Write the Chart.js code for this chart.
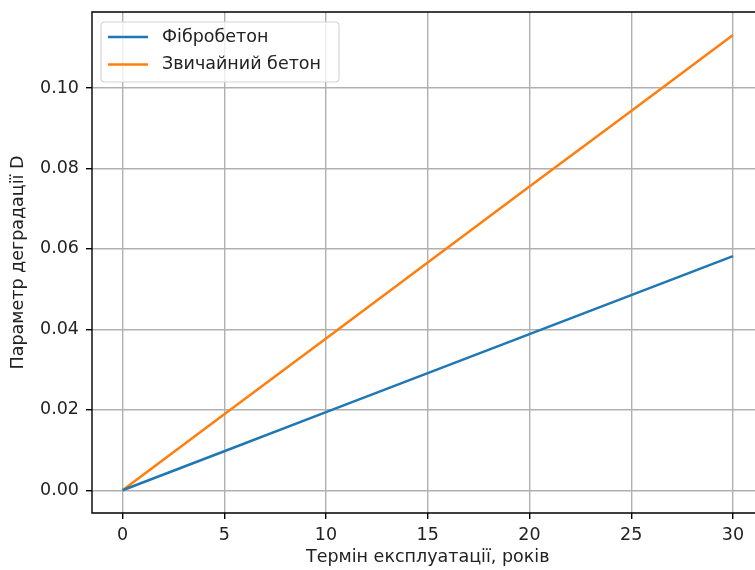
<!DOCTYPE html>
<html>
<head>
<meta charset="utf-8">
<script src="https://cdn.jsdelivr.net/npm/chart.js@4.4.0/dist/chart.umd.min.js"></script>
<style>
  html, body { margin: 0; padding: 0; background: #fff; overflow: hidden; }
  #wrap { width: 772px; height: 570px; position: relative; }
</style>
</head>
<body>
<div id="wrap"><canvas id="c"></canvas></div>
<script>
const years = [0, 5, 10, 15, 20, 25, 30];
const fibroConcrete = [0, 0.0097, 0.0194, 0.0291, 0.0388, 0.0485, 0.0582];
const ordinaryConcrete = [0, 0.0189, 0.0377, 0.0566, 0.0755, 0.0943, 0.1132];
const seriesLabels = ['Фібробетон', 'Звичайний бетон'];
const xTicks = [0, 5, 10, 15, 20, 25, 30];
const yTicks = [0, 0.02, 0.04, 0.06, 0.08, 0.10];
const xTitle = 'Термін експлуатації, років';
const yTitle = 'Параметр деградації D';

const FONT = 'DejaVu Sans';
const FS = 17.5;

const spinesPlugin = {
  id: 'spines',
  afterDatasetsDraw(chart) {
    const { ctx, chartArea: a } = chart;
    ctx.save();
    ctx.strokeStyle = '#000';
    ctx.lineWidth = 1.4;
    ctx.beginPath();
    ctx.rect(a.left, a.top, a.right - a.left, a.bottom - a.top);
    ctx.stroke();
    ctx.restore();
  }
};

const legendPlugin = {
  id: 'mplLegend',
  afterDraw(chart) {
    const { ctx, chartArea: a } = chart;
    const ds = chart.data.datasets;
    ctx.save();
    ctx.font = FS + 'px "' + FONT + '"';
    let maxW = 0;
    ds.forEach(d => { maxW = Math.max(maxW, ctx.measureText(d.label).width); });
    const x0 = a.left + 9, y0 = a.top + 10;
    const w = 70 + maxW + 9, h = 60;
    const r = 4;
    ctx.beginPath();
    ctx.moveTo(x0 + r, y0);
    ctx.lineTo(x0 + w - r, y0);
    ctx.quadraticCurveTo(x0 + w, y0, x0 + w, y0 + r);
    ctx.lineTo(x0 + w, y0 + h - r);
    ctx.quadraticCurveTo(x0 + w, y0 + h, x0 + w - r, y0 + h);
    ctx.lineTo(x0 + r, y0 + h);
    ctx.quadraticCurveTo(x0, y0 + h, x0, y0 + h - r);
    ctx.lineTo(x0, y0 + r);
    ctx.quadraticCurveTo(x0, y0, x0 + r, y0);
    ctx.closePath();
    ctx.fillStyle = 'rgba(255,255,255,0.8)';
    ctx.fill();
    ctx.strokeStyle = '#d6d6d6';
    ctx.lineWidth = 1.2;
    ctx.stroke();
    ds.forEach((d, i) => {
      const cy = y0 + 15 + i * 27.5;
      ctx.strokeStyle = d.borderColor;
      ctx.lineWidth = d.borderWidth;
      ctx.beginPath();
      ctx.moveTo(x0 + 7, cy);
      ctx.lineTo(x0 + 47, cy);
      ctx.stroke();
      ctx.fillStyle = '#222';
      ctx.textBaseline = 'middle';
      ctx.textAlign = 'left';
      ctx.fillText(d.label, x0 + 61, cy);
    });
    ctx.restore();
  }
};

new Chart(document.getElementById('c'), {
  type: 'line',
  data: {
    datasets: [
      {
        label: seriesLabels[0],
        data: years.map((x, i) => ({ x, y: fibroConcrete[i] })),
        borderColor: '#1f77b4',
        borderWidth: 2.5,
        pointRadius: 0,
        tension: 0,
        fill: false
      },
      {
        label: seriesLabels[1],
        data: years.map((x, i) => ({ x, y: ordinaryConcrete[i] })),
        borderColor: '#ff7f0e',
        borderWidth: 2.5,
        pointRadius: 0,
        tension: 0,
        fill: false
      }
    ]
  },
  options: {
    responsive: true,
    maintainAspectRatio: false,
    animation: false,
    devicePixelRatio: 1,
    layout: { padding: { top: 12, right: 8.5, left: 0, bottom: 0 } },
    plugins: {
      legend: { display: false },
      tooltip: { enabled: false }
    },
    scales: {
      x: {
        type: 'linear',
        min: -1.5,
        max: 31.5,
        afterBuildTicks: s => { s.ticks = xTicks.map(v => ({ value: v })); },
        afterFit: s => { s.height = 57; s.paddingLeft = 0; s.paddingRight = 0; },
        grid: { color: '#b0b0b0', lineWidth: 1.4, tickLength: 6, tickColor: '#000', tickWidth: 1.4, drawOnChartArea: true },
        border: { display: false },
        ticks: {
          padding: 6,
          color: '#222',
          font: { family: FONT, size: FS },
          maxRotation: 0,
          callback: v => String(v)
        },
        title: {
          display: true,
          text: xTitle,
          color: '#222',
          font: { family: FONT, size: FS },
          padding: { top: 0, bottom: 2 }
        }
      },
      y: {
        type: 'linear',
        min: -0.00566,
        max: 0.1189,
        afterBuildTicks: s => { s.ticks = yTicks.map(v => ({ value: v })); },
        afterFit: s => { s.width = 92; s.paddingTop = 0; s.paddingBottom = 0; },
        grid: { color: '#b0b0b0', lineWidth: 1.4, tickLength: 6, tickColor: '#000', tickWidth: 1.4 },
        border: { display: false },
        ticks: {
          padding: 7,
          color: '#222',
          font: { family: FONT, size: FS },
          callback: v => v.toFixed(2)
        },
        title: {
          display: true,
          text: yTitle,
          color: '#222',
          font: { family: FONT, size: FS },
          padding: { top: 8, bottom: 0 }
        }
      }
    }
  },
  plugins: [spinesPlugin, legendPlugin]
});
</script>
</body>
</html>
